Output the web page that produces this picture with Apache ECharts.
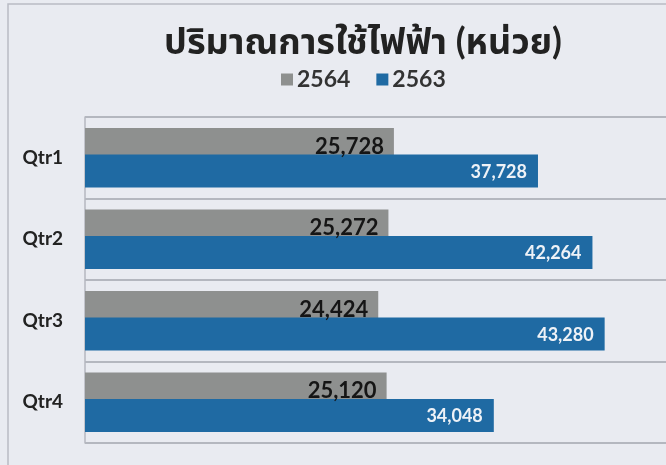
<!DOCTYPE html>
<html>
<head>
<meta charset="utf-8">
<script src="https://cdn.jsdelivr.net/npm/echarts@6/dist/echarts.min.js"></script>
<style>
html,body{margin:0;padding:0;background:#e9ebf1;}
#c{width:666px;height:465px;}
</style>
</head>
<body>
<div id="c"></div>
<script>
const titleText = 'ปริมาณการใช้ไฟฟ้า (หน่วย)';
const categories = ['Qtr1', 'Qtr2', 'Qtr3', 'Qtr4'];
const seriesNames = ['2564', '2563'];
const values2564 = [25728, 25272, 24424, 25120];
const values2563 = [37728, 42264, 43280, 34048];

const fmt = v => String(v).replace(/\B(?=(\d{3})+(?!\d))/g, ',');
const font = "Lato, 'Noto Sans', 'Noto Sans Thai', sans-serif";

const chart = echarts.init(document.getElementById('c'), null, {renderer: 'canvas'});
chart.setOption({
  backgroundColor: '#e9ebf1',
  animation: false,
  graphic: [{
    type: 'rect', silent: true,
    shape: {x: 8, y: 4, width: 700, height: 520},
    style: {fill: 'none', stroke: '#b9bcc4', lineWidth: 1.5}
  }],
  title: {
    text: titleText,
    left: 358, textAlign: 'center', top: 19,
    textStyle: {fontFamily: font, fontSize: 36, fontWeight: 'bold', color: '#222'}
  },
  legend: {
    data: seriesNames,
    top: 63, left: 276,
    icon: 'rect', itemWidth: 12, itemHeight: 12, itemGap: 26,
    textStyle: {fontFamily: font, fontSize: 23, fontWeight: 'bold', color: '#333', padding: [0,0,0,-1]}
  },
  grid: {left: 85, top: 117, bottom: 22, right: 0},
  xAxis: {
    type: 'value', min: 0, max: 48390, show: false
  },
  yAxis: {
    type: 'category', data: categories, inverse: true,
    axisTick: {show: false},
    axisLine: {show: true, lineStyle: {color: '#b4b7bf', width: 1.5}},
    axisLabel: {fontFamily: font, fontSize: 19, fontWeight: 'bold', color: '#222', margin: 22},
    splitLine: {show: true, lineStyle: {color: '#b4b7bf', width: 2}}
  },
  series: [
    {
      name: seriesNames[0], type: 'bar', data: values2564,
      barWidth: 33, barGap: '-20%',
      itemStyle: {color: '#8e908f'},
      label: {show: true, position: 'insideRight', distance: 10, offset: [0, 2],
        formatter: p => fmt(p.value),
        fontFamily: font, fontSize: 22, fontWeight: 'bold', color: '#151515'}
    },
    {
      name: seriesNames[1], type: 'bar', data: values2563,
      barWidth: 33,
      itemStyle: {color: '#1f6aa3'},
      label: {show: true, position: 'insideRight', distance: 11, offset: [0, 1],
        formatter: p => fmt(p.value),
        fontFamily: font, fontSize: 18, fontWeight: 'bold', color: '#eef2f7'}
    }
  ]
});
</script>
</body>
</html>
